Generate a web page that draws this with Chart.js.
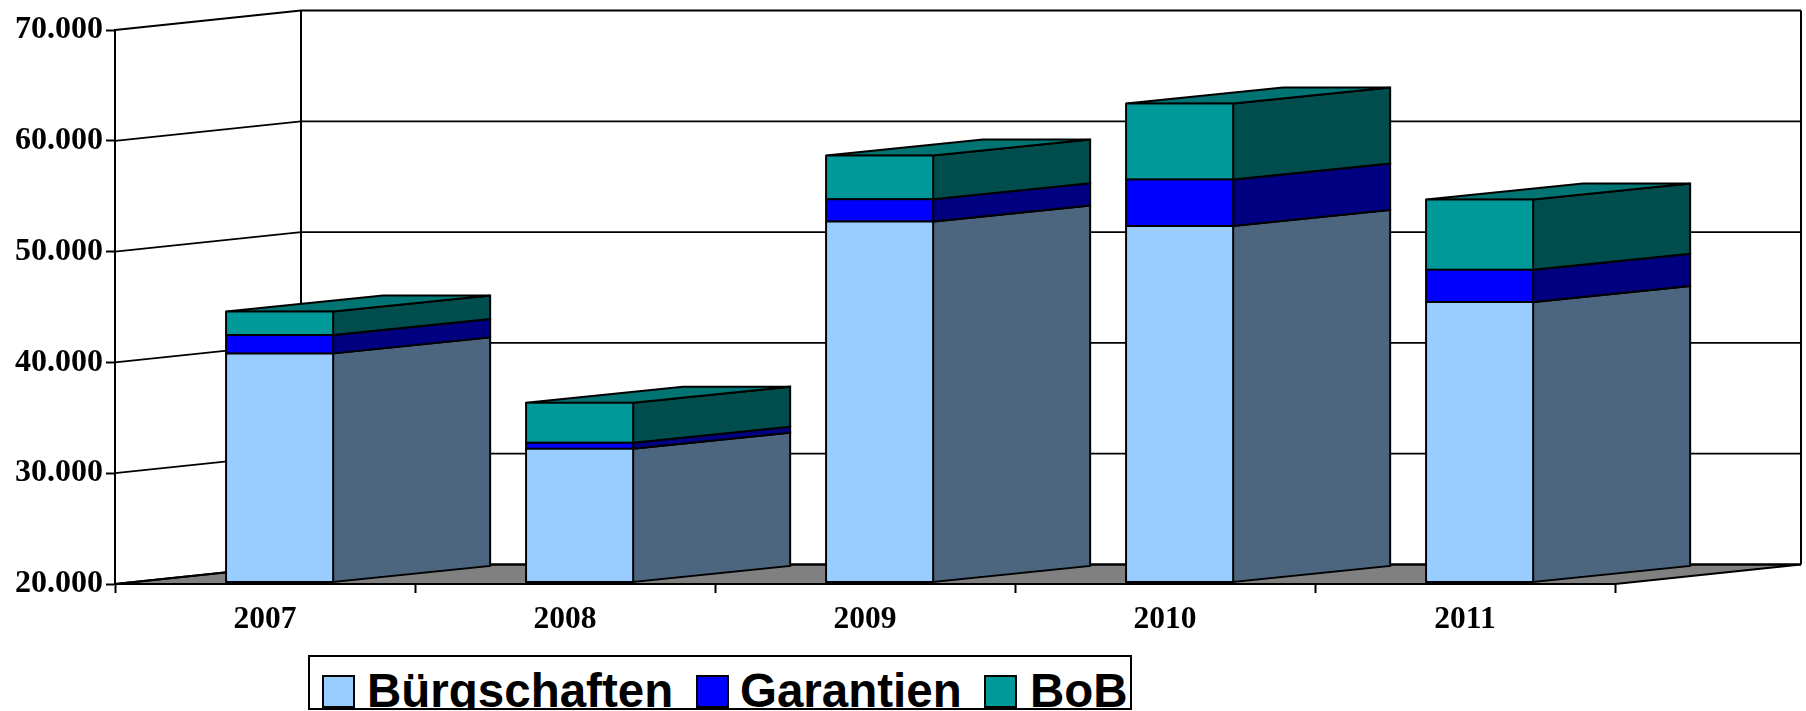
<!DOCTYPE html>
<html>
<head>
<meta charset="utf-8">
<title>Bürgschaften, Garantien, BoB</title>
<script src="https://cdn.jsdelivr.net/npm/chart.js@4"></script>
<style>
  body { margin: 0; background: #fff; }
  #wrap { position: relative; width: 1806px; height: 711px; overflow: hidden; }
  #chart { display: block; }
  #legend {
    position: absolute; left: 308px; top: 655px; width: 824px; height: 55px;
    box-sizing: border-box; border: 2px solid #000; background: #fff; overflow: hidden;
    font: bold 47.5px "Liberation Sans", Arial, sans-serif; color: #000;
  }
  #legend div { position: absolute; top: 18px; width: 29px; height: 29px; border: 2px solid #000; }
  #legend span { position: absolute; top: 4px; line-height: 60px; white-space: nowrap; }
</style>
</head>
<body>
<div id="wrap">
  <canvas id="chart" width="1806" height="711"></canvas>
  <div id="legend"></div>
</div>
<script>
const years = ['2007', '2008', '2009', '2010', '2011'];
const buergschaften = [40670, 32070, 52570, 52170, 45300];
const garantien = [1650, 540, 2020, 4190, 2915];
const bob = [2120, 3610, 3935, 6860, 6336];
const yTickLabels = { 20000: '20.000', 30000: '30.000', 40000: '40.000', 50000: '50.000', 60000: '60.000', 70000: '70.000' };

// depth of the fake 3D box, in pixels
const WALL_DX = 186, WALL_DY = -19.5;
const BAR_SHIFT_X = 14.6, BAR_SHIFT_Y = -1.6;
const BAR_DX = 157, BAR_DY = -16;

const sideColors = ['#4d6680', '#000080', '#004d4d'];
const topColor = '#007373';

function poly(ctx, pts, fill) {
  ctx.beginPath();
  pts.forEach((p, i) => i ? ctx.lineTo(p[0], p[1]) : ctx.moveTo(p[0], p[1]));
  ctx.closePath();
  if (fill) { ctx.fillStyle = fill; ctx.fill(); }
  ctx.stroke();
}

const box3d = {
  id: 'box3d',
  beforeDatasetsDraw(chart) {
    const ctx = chart.ctx, y = chart.scales.y, a = chart.chartArea;
    ctx.save();
    ctx.strokeStyle = '#000';
    ctx.lineWidth = 2;

    // floor
    poly(ctx, [[a.left, a.bottom], [a.right, a.bottom], [a.right + WALL_DX, a.bottom + WALL_DY], [a.left + WALL_DX, a.bottom + WALL_DY]], '#808080');

    // side wall and back wall lines
    y.ticks.forEach(t => {
      const py = y.getPixelForValue(t.value);
      ctx.lineWidth = t.value === 70000 ? 2 : 1.8;
      ctx.beginPath();
      ctx.moveTo(a.left, py);
      ctx.lineTo(a.left + WALL_DX, py + WALL_DY);
      ctx.lineTo(a.right + WALL_DX, py + WALL_DY);
      ctx.stroke();
    });
    ctx.lineWidth = 2;
    ctx.beginPath();
    ctx.moveTo(a.left + WALL_DX, a.top + WALL_DY);
    ctx.lineTo(a.left + WALL_DX, a.bottom + WALL_DY);
    ctx.moveTo(a.right + WALL_DX, a.top + WALL_DY);
    ctx.lineTo(a.right + WALL_DX, a.bottom + WALL_DY);
    ctx.stroke();

    // side and top faces of the bars, taken from the bar elements
    chart.data.datasets.forEach((ds, i) => {
      chart.getDatasetMeta(i).data.forEach(bar => {
        const r = bar.x + bar.width / 2 + BAR_SHIFT_X;
        const l = r - bar.width;
        const top = bar.y + BAR_SHIFT_Y, bottom = bar.base + BAR_SHIFT_Y;
        poly(ctx, [[r, bottom], [r, top], [r + BAR_DX, top + BAR_DY], [r + BAR_DX, bottom + BAR_DY]], sideColors[i]);
        if (i === chart.data.datasets.length - 1) {
          poly(ctx, [[l, top], [r, top], [r + BAR_DX, top + BAR_DY], [l + BAR_DX, top + BAR_DY]], topColor);
        }
      });
    });
    ctx.restore();

    // front faces are drawn by chart.js, pushed a little into the box
    ctx.save();
    ctx.translate(BAR_SHIFT_X, BAR_SHIFT_Y);
  },
  afterDatasetsDraw(chart) {
    chart.ctx.restore();
  }
};

const seriesDefaults = { borderColor: '#000', borderWidth: 2, borderSkipped: false, inflateAmount: 1, clip: false };

const chart = new Chart(document.getElementById('chart'), {
  type: 'bar',
  data: {
    labels: years,
    datasets: [
      { label: 'Bürgschaften', data: buergschaften, backgroundColor: '#99ccff', base: 20000, ...seriesDefaults },
      { label: 'Garantien', data: garantien, backgroundColor: '#0000ff', ...seriesDefaults },
      { label: 'BoB', data: bob, backgroundColor: '#009999', ...seriesDefaults }
    ]
  },
  options: {
    responsive: false,
    animation: false,
    barPercentage: 0.357,
    categoryPercentage: 1,
    layout: { padding: { left: 0, top: 30, right: 191, bottom: 57 } },
    plugins: { legend: { display: false }, tooltip: { enabled: false } },
    scales: {
      x: {
        stacked: true,
        afterFit: axis => { axis.height = 70; },
        grid: { drawOnChartArea: false, tickLength: 9, tickColor: '#000', tickWidth: 2 },
        border: { color: '#000', width: 2 },
        ticks: { color: '#000', padding: 8, maxRotation: 0, font: { family: 'Liberation Serif', size: 31.5, weight: 'bold' } }
      },
      y: {
        stacked: true,
        min: 20000,
        max: 70000,
        afterFit: axis => { axis.width = 115; },
        grid: { drawOnChartArea: false, tickLength: 9, tickColor: '#000', tickWidth: 2 },
        border: { color: '#000', width: 2 },
        ticks: {
          stepSize: 10000,
          color: '#000',
          padding: 3,
          font: { family: 'Liberation Serif', size: 32, weight: 'bold' },
          callback: value => yTickLabels[value]
        }
      }
    }
  },
  plugins: [box3d]
});

// legend is a plain html box, its bottom edge cuts the descenders like in the original
const legendX = [[12, 57], [386, 430], [674, 720]];
document.getElementById('legend').innerHTML = chart.data.datasets.map((ds, i) =>
  `<div style="left:${legendX[i][0]}px;background:${ds.backgroundColor}"></div>` +
  `<span style="left:${legendX[i][1]}px">${ds.label}</span>`).join('');
</script>
</body>
</html>
